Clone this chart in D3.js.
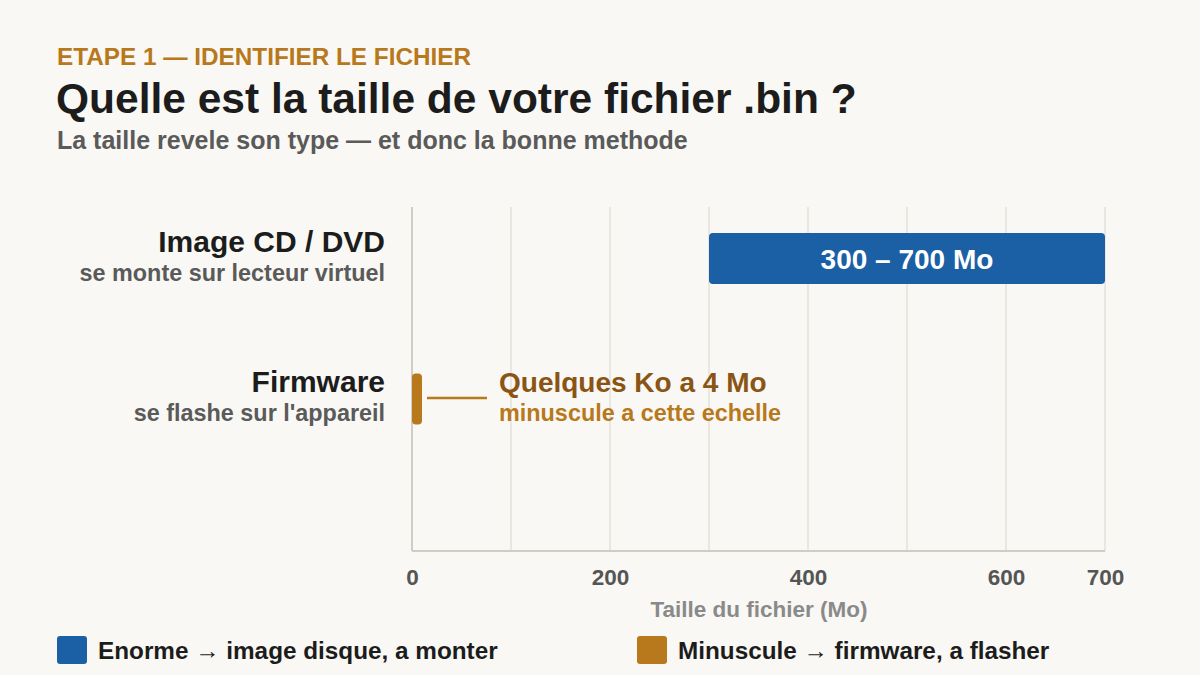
<!DOCTYPE html>
<html><head><meta charset="utf-8">
<script src="https://cdn.jsdelivr.net/npm/d3@7"></script>
<style>
html,body{margin:0;padding:0;background:#f9f8f4;}
svg{display:block;font-family:"Liberation Sans",Arial,sans-serif;font-weight:bold;}
</style></head>
<body><svg id="c" width="1200" height="675"></svg>
<script>
const categories = ["Image CD / DVD", "Firmware"];
const subLabels = ["se monte sur lecteur virtuel", "se flashe sur l'appareil"];
const rangeStart = [300, 0];
const rangeEnd = [700, 4];
const barColors = ["#1b5fa4", "#b8781c"];
const tickValues = [0, 200, 400, 600, 700];
const gridValues = [0, 100, 200, 300, 400, 500, 600, 700];
const legendLabels = ["Enorme \u2192 image disque, a monter", "Minuscule \u2192 firmware, a flasher"];

const svg = d3.select("#c");
svg.append("rect").attr("width",1200).attr("height",675).attr("fill","#f9f8f4");

// Header
svg.append("text").attr("x",57).attr("y",65).attr("fill","#b8781c").attr("font-size",24.3).text("ETAPE 1 \u2014 IDENTIFIER LE FICHIER");
svg.append("text").attr("x",56).attr("y",113).attr("fill","#1c1c1c").attr("font-size",42.5).text("Quelle est la taille de votre fichier .bin ?");
svg.append("text").attr("x",57).attr("y",149).attr("fill","#5a5a5a").attr("font-size",25).text("La taille revele son type \u2014 et donc la bonne methode");

const x = d3.scaleLinear().domain([0,700]).range([412,1105]);
const y = d3.scalePoint().domain(categories).range([258.5,399]);
const barH = 51;
const plotTop = 207, plotBottom = 551;

// Grid
svg.append("g").selectAll("line").data(gridValues.slice(1)).join("line")
  .attr("x1",d=>x(d)).attr("x2",d=>x(d)).attr("y1",plotTop).attr("y2",plotBottom)
  .attr("stroke","#e4e2da").attr("stroke-width",1.5);
// Axis lines
svg.append("line").attr("x1",x(0)).attr("x2",x(0)).attr("y1",plotTop).attr("y2",plotBottom).attr("stroke","#cfcdc6").attr("stroke-width",2);
svg.append("line").attr("x1",x(0)).attr("x2",x(700)).attr("y1",plotBottom).attr("y2",plotBottom).attr("stroke","#cfcdc6").attr("stroke-width",2);

// X axis via d3.axisBottom
const ax = svg.append("g").attr("transform",`translate(0,${plotBottom})`)
  .call(d3.axisBottom(x).tickValues(tickValues).tickSize(0).tickPadding(18).tickFormat(d3.format("d")));
ax.select(".domain").remove();
ax.selectAll("text").attr("font-size",22.5).attr("fill","#555").attr("font-family","Liberation Sans, Arial, sans-serif").attr("font-weight","bold");

svg.append("text").attr("x",759).attr("y",617).attr("text-anchor","middle").attr("fill","#8a8a8a").attr("font-size",22.5).text("Taille du fichier (Mo)");

// Bars
const data = categories.map((c,i)=>({c, s:rangeStart[i], e:rangeEnd[i], col:barColors[i], sub:subLabels[i]}));
svg.append("g").selectAll("rect").data(data).join("rect")
  .attr("x",d=>x(d.s))
  .attr("width",d=>Math.max(x(d.e)-x(d.s), 10))
  .attr("y",d=>y(d.c)-barH/2).attr("height",barH)
  .attr("rx",4).attr("fill",d=>d.col);

// Category labels
data.forEach(d=>{
  svg.append("text").attr("x",385).attr("y",y(d.c)-7).attr("text-anchor","end").attr("fill","#1c1c1c").attr("font-size",30).text(d.c);
  svg.append("text").attr("x",385).attr("y",y(d.c)+22).attr("text-anchor","end").attr("fill","#5a5a5a").attr("font-size",23.4).text(d.sub);
});

// Bar 1 label
const d0 = data[0];
svg.append("text").attr("x",(x(d0.s)+x(d0.e))/2).attr("y",y(d0.c)+10).attr("text-anchor","middle").attr("fill","#ffffff").attr("font-size",28).text(`${d0.s} \u2013 ${d0.e} Mo`);

// Firmware annotation
const d1 = data[1];
svg.append("line").attr("x1",x(0)+15).attr("x2",x(0)+75).attr("y1",y(d1.c)-1).attr("y2",y(d1.c)-1).attr("stroke","#b8781c").attr("stroke-width",2.5);
svg.append("text").attr("x",499).attr("y",y(d1.c)-7).attr("fill","#8a5414").attr("font-size",28).text(`Quelques Ko a ${d1.e} Mo`);
svg.append("text").attr("x",499).attr("y",y(d1.c)+22).attr("fill","#b8781c").attr("font-size",23.4).text("minuscule a cette echelle");

// Legend
const lx = [57, 637];
legendLabels.forEach((t,i)=>{
  svg.append("rect").attr("x",lx[i]).attr("y",636).attr("width",30).attr("height",28).attr("rx",3).attr("fill",barColors[i]);
  svg.append("text").attr("x",lx[i]+41).attr("y",659).attr("fill","#1c1c1c").attr("font-size",24.3).text(t);
});
</script></body></html>
